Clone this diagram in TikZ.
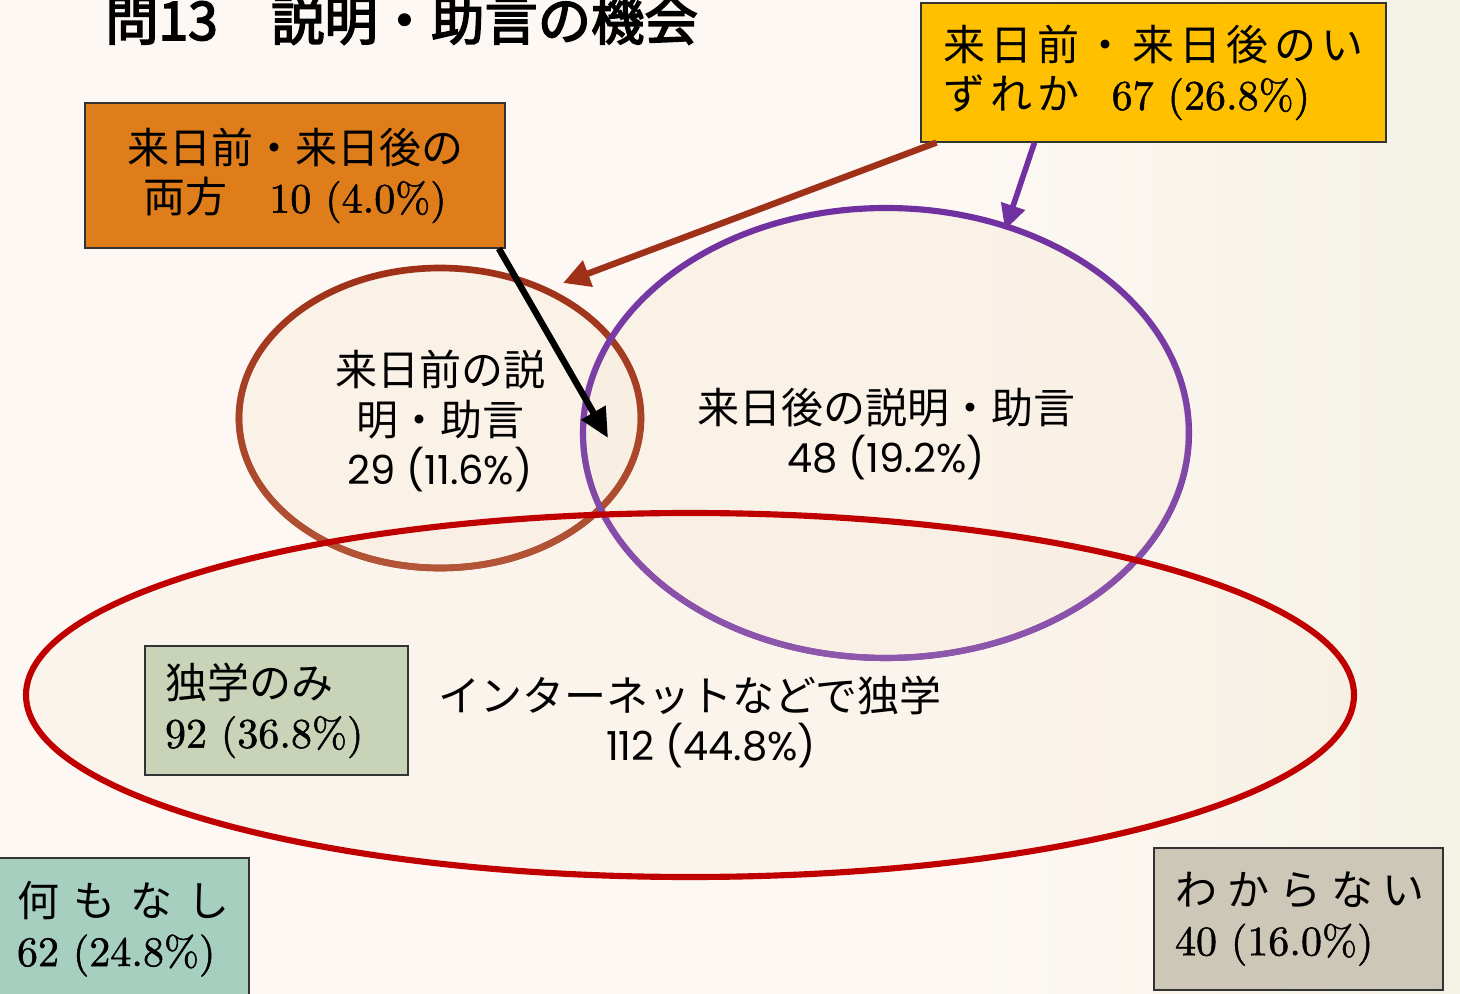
\documentclass[tikz,border=0pt]{standalone}
\usepackage{fontspec}
\usetikzlibrary{arrows.meta,shapes.geometric,fadings}
\newfontfamily\jp{Noto Sans CJK JP}
\newfontfamily\jpb[FakeBold=3]{Noto Sans CJK JP}
\newfontfamily\gothic{Poppins}
\newfontfamily\num[Extension=.otf, FakeBold=1.2]{lmroman10-regular}
\newcommand\bigfont{\fontsize{31.5pt}{37pt}\selectfont}
\newcommand\gp[1]{\hspace*{#1}}
\definecolor{bgA}{RGB}{253,248,243}
\definecolor{bgB}{RGB}{231,231,208}
\definecolor{orangeC}{RGB}{222,125,26}
\definecolor{yellowC}{RGB}{255,192,0}
\definecolor{greenC}{RGB}{201,211,183}
\definecolor{tealC}{RGB}{166,207,192}
\definecolor{greyC}{RGB}{204,199,183}
\definecolor{brownT}{RGB}{158,49,24}
\definecolor{brownB}{RGB}{180,86,56}
\definecolor{purpleT}{RGB}{112,48,160}
\definecolor{purpleB}{RGB}{142,88,172}
\definecolor{redC}{RGB}{192,0,0}
\definecolor{ellFill}{RGB}{248,236,222}
\pgfdeclarehorizontalshading{bgshade}{100bp}{color(0bp)=(bgA); color(58bp)=(bgA); color(100bp)=(bgB)}
\begin{document}
\begin{tikzpicture}[x=0.75pt,y=-0.75pt,
  box/.style={draw=black!80, line width=0.8pt, inner ysep=0pt, font=\jp\bigfont},
  ell/.style={ellipse, inner sep=0pt, outer sep=0pt, fill=ellFill},
  lbl/.style={align=center, font=\jp\bigfont, text=black}]
\useasboundingbox (0,0) rectangle (1460,994);
\shade[shading=bgshade] (0,0) rectangle (1460,994);

% title
\node[anchor=base west, inner sep=0pt, font=\jpb\fontsize{40pt}{40pt}\selectfont] (title) at (105,40) {問13　説明・助言の機会};

% ellipse fills
\node[ell, fill opacity=.55, minimum width=301.5pt, minimum height=225pt] (pre) at (440,418) {};
\node[ell, fill opacity=.55, minimum width=454.5pt, minimum height=337.5pt] (post) at (886,433) {};
\node[ell, fill opacity=.3, minimum width=996pt, minimum height=273pt] (self) at (690,695) {};
% ellipse outlines
\draw[brownT, line width=5pt] (pre.center) ellipse [x radius=150.75pt, y radius=112.5pt];
\draw[brownB, line width=5pt, path fading=north] (pre.center) ellipse [x radius=150.75pt, y radius=112.5pt];
\draw[purpleT, line width=4.6pt] (post.center) ellipse [x radius=227.25pt, y radius=168.75pt];
\draw[purpleB, line width=4.6pt, path fading=north] (post.center) ellipse [x radius=227.25pt, y radius=168.75pt];
\draw[redC, line width=4.6pt] (self.center) ellipse [x radius=498pt, y radius=136.5pt];

% boxes
\node[box, fill=orangeC, minimum width=315pt, minimum height=108.75pt, align=center] (obox) at (295,175.5)
  {来日前・来日後の\\両方　{\num 10 (4.0\%)}};
\node[box, fill=yellowC, minimum width=348.75pt, minimum height=104.25pt, inner xsep=16.5pt, text width=315.75pt, align=left] (ybox) at (1153.5,72.5)
  {\mbox{来\gp{4pt}日\gp{4pt}前\gp{4pt}・\gp{4pt}来\gp{4pt}日\gp{4pt}後\gp{4pt}の\gp{4pt}い}\\\mbox{ず\gp{4pt}れ\gp{4pt}か\gp{24pt}{\num 67 (26.8\%)}}};
\node[box, fill=greenC, minimum width=197.25pt, minimum height=96.75pt, inner xsep=15pt, text width=167.25pt, align=left] (gbox) at (276.5,710.5)
  {独学のみ\\\mbox{\num 92 (36.8\%)}};
\node[box, fill=tealC, minimum width=189pt, minimum height=106.5pt, inner xsep=15pt, text width=159pt, align=left] (nbox) at (123,929)
  {\mbox{何\gp{11.25pt}も\gp{11.25pt}な\gp{11.25pt}し}\\\mbox{\num 62 (24.8\%)}};
\node[box, fill=greyC, minimum width=216.75pt, minimum height=106.5pt, inner xsep=15.75pt, text width=185.25pt, align=left] (wbox) at (1298.5,919)
  {\mbox{わ\gp{7.5pt}か\gp{7.5pt}ら\gp{7.5pt}な\gp{7.5pt}い}\\\mbox{\num 40 (16.0\%)}};

% arrow tips
\coordinate (tipB) at (563,283);
\coordinate (tipP) at (1005,230);
\coordinate (tipK) at (608,438);
\draw[brownT, line width=4.8pt, -{Triangle[length=20pt,width=20pt]}] ([xshift=12pt]ybox.south west) -- (tipB);
\draw[purpleT, line width=4.2pt, -{Triangle[length=19pt,width=18pt]}] ([xshift=85.5pt]ybox.south west) -- (tipP);
\draw[black, line width=4.8pt, -{Triangle[length=22pt,width=20pt]}] ([xshift=-5pt]obox.south east) -- (tipK);

% ellipse labels
\node[lbl] (preT) at (440,421) {来日前の説\\明・助言\\{\gothic\fontsize{30pt}{37pt}\selectfont 29 (11.6\%)}};
\node[lbl] (postT) at (886,434) {来日後の説明・助言\\{\gothic\fontsize{30pt}{37pt}\selectfont 48 (19.2\%)}};
\node[lbl] (selfT) at (690,722) {インターネットなどで独学\\\hspace*{31.5pt}{\gothic\fontsize{30pt}{37pt}\selectfont 112 (44.8\%)}};
\end{tikzpicture}
\end{document}
